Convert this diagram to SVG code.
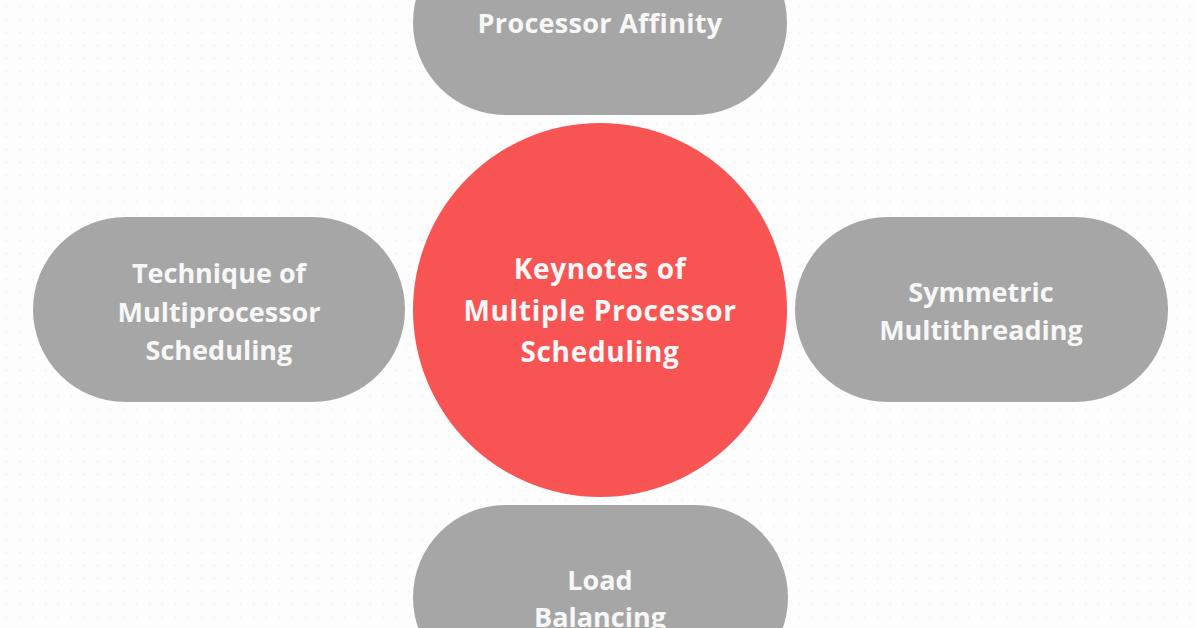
<svg xmlns="http://www.w3.org/2000/svg" width="1196" height="628" viewBox="0 0 1196 628">
<defs>
<pattern id="dots" x="0" y="0" width="13" height="13" patternUnits="userSpaceOnUse">
<circle cx="6.5" cy="6.5" r="1" fill="#f0f0f0"/>
</pattern>
<style>
.pill{fill:#a6a6a6}
.hub{fill:#f85454}
.lbl{font-family:"Open Sans","Liberation Sans",sans-serif;font-weight:700;font-size:27px;fill:#f7f7f7;text-anchor:middle}
.hubl{font-size:28px;letter-spacing:0.7px}
</style>
</defs>
<rect width="1196" height="628" fill="#fdfdfd"/>
<rect width="1196" height="628" fill="url(#dots)"/>
<g id="connectors"></g>
<g id="node-top">
<rect class="pill" x="413" y="-70" width="374" height="185" rx="92.5"/>
<text class="lbl" x="600" y="33" letter-spacing="0.3">Processor Affinity</text>
</g>
<g id="node-left">
<rect class="pill" x="33" y="217" width="372" height="185" rx="92.5"/>
<text class="lbl" x="219" y="283">Technique of</text>
<text class="lbl" x="219" y="322">Multiprocessor</text>
<text class="lbl" x="219" y="360">Scheduling</text>
</g>
<g id="node-right">
<rect class="pill" x="795" y="217" width="373" height="185" rx="92.5"/>
<text class="lbl" x="981" y="302">Symmetric</text>
<text class="lbl" x="981" y="340">Multithreading</text>
</g>
<g id="node-bottom">
<rect class="pill" x="413" y="505" width="375" height="185" rx="92.5"/>
<text class="lbl" x="600" y="590">Load</text>
<text class="lbl" x="600" y="627">Balancing</text>
</g>
<g id="node-center">
<circle class="hub" cx="600" cy="310" r="187"/>
<text class="lbl hubl" x="600" y="279">Keynotes of</text>
<text class="lbl hubl" x="600" y="321">Multiple Processor</text>
<text class="lbl hubl" x="600" y="362">Scheduling</text>
</g>
</svg>
